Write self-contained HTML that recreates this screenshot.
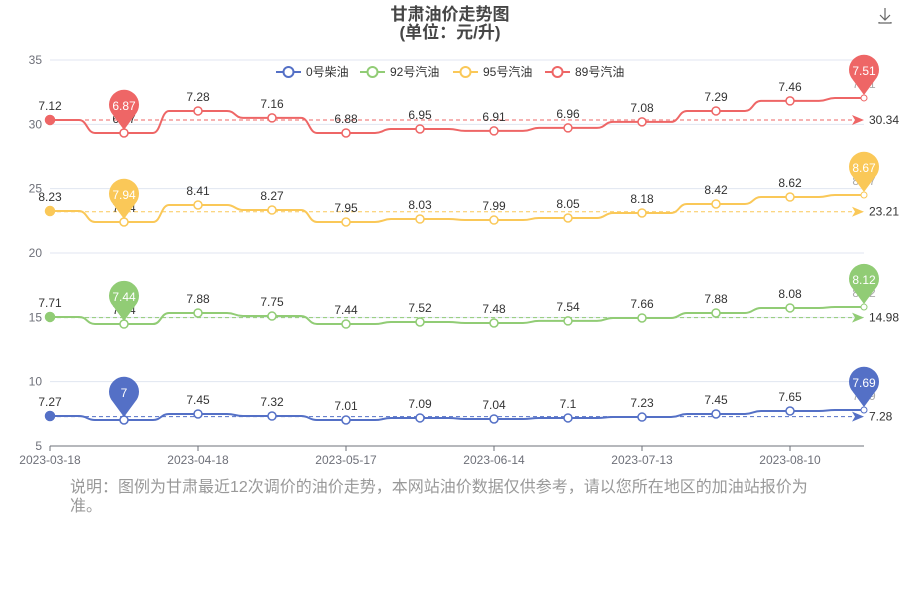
<!DOCTYPE html>
<html><head><meta charset="utf-8"><style>
body{margin:0;background:#fff;width:900px;height:600px;overflow:hidden;font-family:"Liberation Sans","Noto Sans CJK SC",sans-serif;}
svg{position:absolute;left:0;top:0}
.note{position:absolute;left:70px;top:478px;width:750px;font-size:16px;line-height:19px;color:#999;}
</style></head><body>
<svg id="c" width="900" height="600"></svg>
<div class="note">说明：图例为甘肃最近12次调价的油价走势，本网站油价数据仅供参考，请以您所在地区的加油站报价为准。</div>
<script>
const dates=["2023-03-18","","2023-04-18","","2023-05-17","","2023-06-14","","2023-07-13","","2023-08-10",""];
const yTicks=[5,10,15,20,25,30,35];
const names=["0号柴油","92号汽油","95号汽油","89号汽油"];
const colors=["#5470c6","#91cc75","#fac858","#ee6666"];
const v0=[7.33,7.02,7.49,7.33,7.02,7.18,7.10,7.18,7.25,7.49,7.72,7.80];
const v92=[15.03,14.48,15.34,15.10,14.48,14.64,14.56,14.72,14.95,15.34,15.73,15.80];
const v95=[23.26,22.41,23.73,23.34,22.41,22.64,22.56,22.72,23.11,23.81,24.35,24.51];
const v89=[30.34,29.33,31.04,30.50,29.33,29.64,29.49,29.72,30.19,31.04,31.82,32.05];
const p0=[7.27,7,7.45,7.32,7.01,7.09,7.04,7.1,7.23,7.45,7.65,7.69];
const p92=[7.71,7.44,7.88,7.75,7.44,7.52,7.48,7.54,7.66,7.88,8.08,8.12];
const p95=[8.23,7.94,8.41,8.27,7.95,8.03,7.99,8.05,8.18,8.42,8.62,8.67];
const p89=[7.12,6.87,7.28,7.16,6.88,6.95,6.91,6.96,7.08,7.29,7.46,7.51];
const avgs=[7.28,14.98,23.21,30.34];
const vals=[v0,v92,v95,v89], prices=[p0,p92,p95,p89];
const X0=50,X1=864,Y0=60,Y1=446;
const xs=i=>X0+(X1-X0)*i/(dates.length-1);
const ys=v=>Y1-(v-5)/(35-5)*(Y1-Y0);
const svg=document.getElementById('c');const NS="http://www.w3.org/2000/svg";
function mk(t,a,p){const e=document.createElementNS(NS,t);for(const k in a)e.setAttribute(k,a[k]);(p||svg).appendChild(e);return e;}
let t=mk('text',{x:450,y:20,'text-anchor':'middle','font-size':17,'font-weight':'bold',fill:'#464646'});t.textContent="甘肃油价走势图";


t=mk('text',{x:450,y:38,'text-anchor':'middle','font-size':17,'font-weight':'bold',fill:'#464646'});t.textContent="(单位：元/升)";


let dl=mk('path',{d:'M885 8 V20 M880 15 L885 20 L890 15 M879 22 V23 H891 V22',stroke:'#666',fill:'none','stroke-width':1.2});


yTicks.forEach(v=>{const y=ys(v);
 let l=mk('line',{x1:X0,x2:X1,y1:y,y2:y,stroke:v==5?'#6e7079':'#e0e6f1'});
 
 
 let tt=mk('text',{x:42,y:y+4,'text-anchor':'end','font-size':12,fill:'#6e7079'});tt.textContent=v;
 
 
});
dates.forEach((d,i)=>{const x=xs(i);
 if(d){let l=mk('line',{x1:x,x2:x,y1:Y1,y2:Y1+5,stroke:'#6e7079'});
 
 
 let tt=mk('text',{x:x,y:Y1+18,'text-anchor':'middle','font-size':12,fill:'#6e7079'});tt.textContent=d;
 
 }
});
// legend
const lx=[276,360,453,545];
names.forEach((n,k)=>{const g=mk('g',{});
 
 
 mk('line',{x1:lx[k],x2:lx[k]+25,y1:72,y2:72,stroke:colors[k],'stroke-width':2},g);
 mk('circle',{cx:lx[k]+12.5,cy:72,r:5,fill:'#fff',stroke:colors[k],'stroke-width':2},g);
 const tt=mk('text',{x:lx[k]+30,y:76,'font-size':12,fill:'#333'},g);tt.textContent=n;});
vals.forEach((vs,k)=>{const c=colors[k];const g=mk('g',{});
 
 
 // avg line
 const ay=ys(avgs[k]);
 let al=mk('line',{x1:X0,x2:X1-6,y1:ay,y2:ay,stroke:c,'stroke-dasharray':'4,3','stroke-width':1},g);
 
 
 mk('path',{d:`M${X1-12} ${ay-5} L${X1} ${ay} L${X1-12} ${ay+5} L${X1-9} ${ay} Z`,fill:c},g);
 let at=mk('text',{x:X1+5,y:ay+4,'font-size':12,fill:'#333'},g);at.textContent=avgs[k].toFixed(2);
 
 
 let d=`M${xs(0)} ${ys(vs[0])}`;
 for(let i=0;i<vs.length-1;i++){const xa=xs(i),xb=xs(i+1),ya=ys(vs[i]),yb=ys(vs[i+1]);const m=(xa+xb)/2;
  d+=` L${m-8} ${ya} C${m} ${ya} ${m} ${yb} ${m+8} ${yb} L${xb} ${yb}`;}
 let p=mk('path',{d,fill:'none',stroke:c,'stroke-width':2},g);
 
 
 vs.forEach((v,i)=>{const x=xs(i),y=ys(v);
  let pt=mk('circle',{cx:x,cy:y,r:i==0?4.5:(i==vs.length-1?3:4),fill:i==0?c:'#fff',stroke:c,'stroke-width':i==vs.length-1?1:1.5},g);
  
  
  let tl=mk('text',{x:x,y:y-10,'text-anchor':'middle','font-size':12,fill:i==vs.length-1?'#aaa':'#333'},g);tl.textContent=prices[k][i];
  
  
 });
 [1,vs.length-1].forEach(i=>{const x=xs(i),y=ys(vs[i]);const cy=y-27;
  let pin=mk('path',{d:`M${x} ${y-3} L${x-11} ${cy+9} A15 15 0 1 1 ${x+11} ${cy+9} Z`,fill:c},g);
  
  
  let pt=mk('text',{x:x,y:cy+4,'text-anchor':'middle','font-size':12,fill:'#fff'},g);pt.textContent=prices[k][i];
  
  
 });
});
</script>
</body></html>
